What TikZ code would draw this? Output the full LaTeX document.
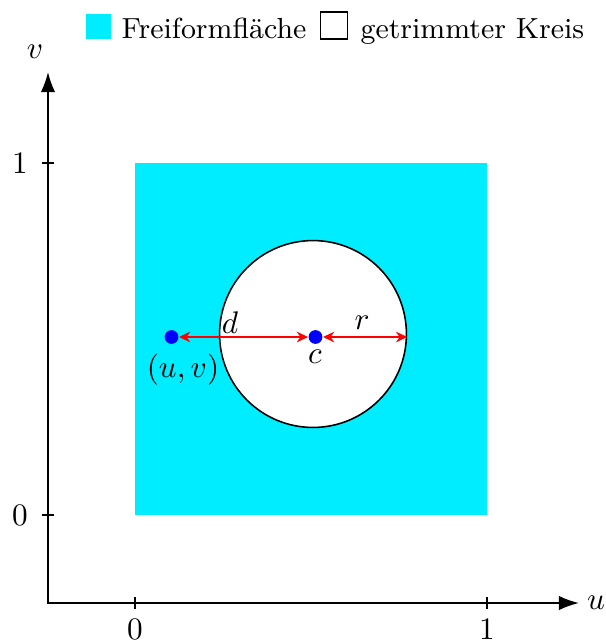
\documentclass[tikz,border=0pt]{standalone}
\usetikzlibrary{arrows.meta}
\definecolor{surf}{RGB}{0,236,255}
\begin{document}
\begin{tikzpicture}[x=0.32pt,y=-0.32pt,
  axisline/.style={line width=0.6pt,{Latex[length=6.4pt,width=4.6pt]}-{Latex[length=6.4pt,width=4.6pt]}},
  tick/.style={line width=0.6pt},
  dot/.style={circle,fill=blue,inner sep=0pt,minimum size=4.4pt},
  redarrow/.style={red,line width=0.4pt,{Stealth[length=3.6pt,width=3.4pt]}-{Stealth[length=3.6pt,width=3.4pt]}},
  lbl/.style={inner sep=0pt},
  legtext/.style={inner sep=0pt,anchor=base west,font=\fontsize{9.3}{11}\selectfont}]
\useasboundingbox (0,0) rectangle (606,642);
% legend
\node[fill=surf,minimum width=8pt,minimum height=8pt,inner sep=0pt] (legsurf) at (98.5,26.5) {};
\node[legtext] (legsurftext) at (121,38) {Freiformfläche};
\node[draw,fill=white,line width=0.4pt,minimum width=8.6pt,minimum height=8.6pt,inner sep=0pt] (legcirc) at (334,25.5) {};
\node[legtext] (legcirctext) at (360,38) {getrimmter Kreis};
% surface
\coordinate (sq00) at (135,515);
\coordinate (sq11) at (487,163);
\fill[surf] (sq00) rectangle (sq11);
% trimmed circle
\node[circle,draw,fill=white,line width=0.5pt,minimum size=59.8pt,inner sep=0pt] (kreis) at (313,334) {};
% axes
\coordinate (orig) at (48,603);
\coordinate (xend) at (579,603);
\coordinate (yend) at (48,72);
\draw[axisline] (yend) -- (orig) -- (xend);
\node[lbl] (ulabel) at (596,603) {$u$};
\node[lbl] (vlabel) at (35,52) {$v$};
% ticks
\coordinate (tx0) at (135,603);
\coordinate (tx1) at (487,603);
\coordinate (ty0) at (48,515);
\coordinate (ty1) at (48,163);
\draw[tick] ([yshift=2pt]tx0) -- ([yshift=-2pt]tx0);
\draw[tick] ([yshift=2pt]tx1) -- ([yshift=-2pt]tx1);
\draw[tick] ([xshift=-2pt]ty0) -- ([xshift=2pt]ty0);
\draw[tick] ([xshift=-2pt]ty1) -- ([xshift=2pt]ty1);
\node[lbl] (lx0) at (135,629) {$0$};
\node[lbl] (lx1) at (487,629) {$1$};
\node[lbl] (ly0) at (20,515) {$0$};
\node[lbl] (ly1) at (20,163) {$1$};
% points
\node[dot] (p) at (171.5,337) {};
\node[dot] (c) at (315.5,337) {};
\draw[redarrow] (p) -- (c);
\draw[redarrow] (c) -- (c -| kreis.east);
\node[lbl] (dlabel) at (230,323) {$d$};
\node[lbl] (rlabel) at (362,323) {$r$};
\node[lbl] (clabel) at (315,357) {$c$};
\node[lbl] (plabel) at (183,370) {$(u,v)$};
\end{tikzpicture}
\end{document}
